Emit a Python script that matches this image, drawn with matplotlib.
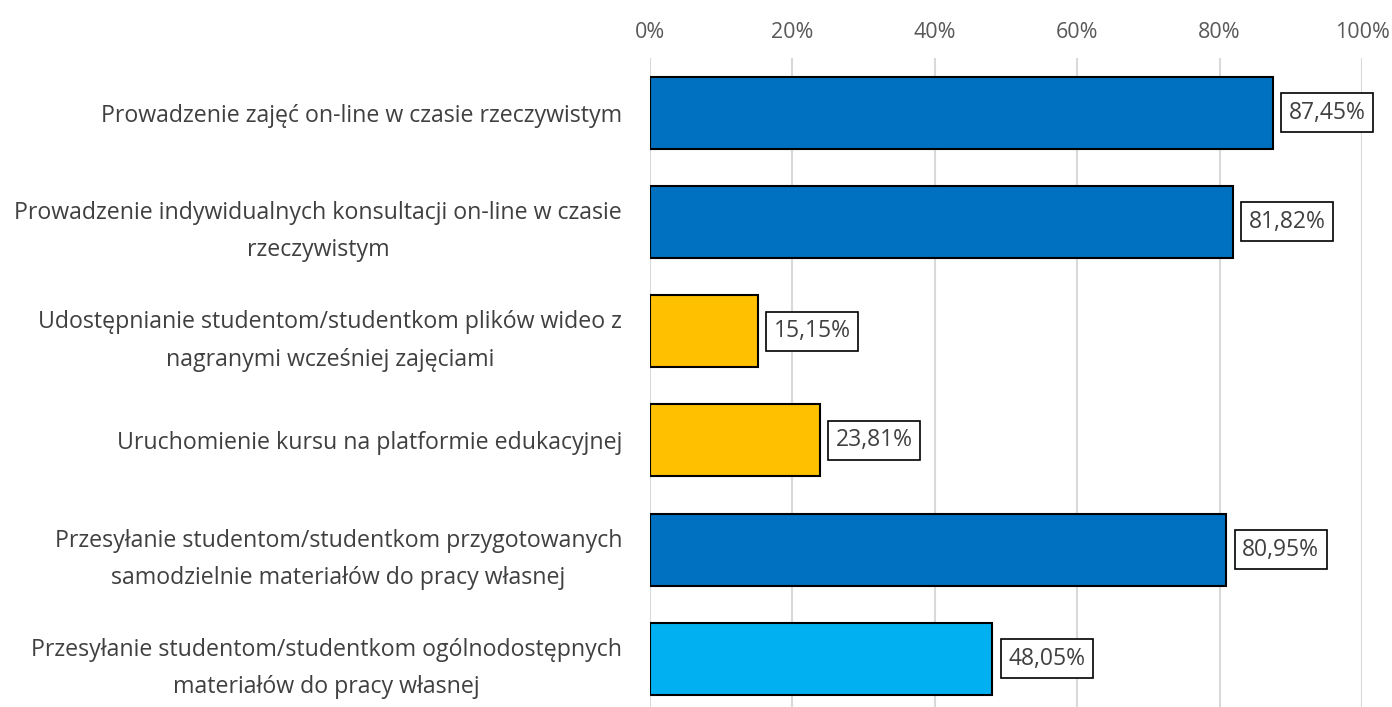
import matplotlib
matplotlib.use("Agg")
import matplotlib.pyplot as plt
from matplotlib.ticker import FuncFormatter

categories = [
    "Prowadzenie zajęć on-line w czasie rzeczywistym",
    "Prowadzenie indywidualnych konsultacji on-line w czasie\nrzeczywistym",
    "Udostępnianie studentom/studentkom plików wideo z\nnagranymi wcześniej zajęciami",
    "Uruchomienie kursu na platformie edukacyjnej",
    "Przesyłanie studentom/studentkom przygotowanych\nsamodzielnie materiałów do pracy własnej",
    "Przesyłanie studentom/studentkom ogólnodostępnych\nmateriałów do pracy własnej",
]
values = [87.45, 81.82, 15.15, 23.81, 80.95, 48.05]
colors = ["#0070C0", "#0070C0", "#FFC000", "#FFC000", "#0070C0", "#00B0F0"]
ticks = [0, 20, 40, 60, 80, 100]

plt.rcParams['font.family'] = ['Open Sans', 'DejaVu Sans']

fig = plt.figure(figsize=(13.92, 7.07), dpi=100)
ax = fig.add_axes([650/1392, 0.0, 712/1392, 1 - 58/707])

y = list(range(len(categories)))
ax.barh(y, values, height=0.66, color=colors, edgecolor="black", linewidth=1.5, zorder=3)
ax.set_xlim(0, 100)
ax.set_ylim(5.44, -0.5)
ax.set_yticks(y)
ax.set_yticklabels(categories, fontsize=16.7, color="#404040", ha="right",
                   multialignment="center", linespacing=1.75)
ax.tick_params(axis='y', length=0, pad=20)
ax.xaxis.tick_top()
ax.set_xticks(ticks)
ax.xaxis.set_major_formatter(FuncFormatter(lambda v, p: f"{int(v)}%"))
ax.tick_params(axis='x', length=0, labelsize=15.5, labelcolor="#595959", pad=11)
ax.grid(axis='x', color="#D9D9D9", linewidth=1.5, zorder=0)
for s in ax.spines.values():
    s.set_visible(False)

for yi, v in zip(y, values):
    ax.annotate(f"{v:.2f}%".replace(".", ","), xy=(v, yi), xytext=(11.5, 0),
                textcoords="offset points", va="center", ha="left",
                fontsize=16.5, color="#404040",
                bbox=dict(boxstyle="square,pad=0.33", fc="white", ec="black", lw=1.2),
                zorder=5)

fig.savefig("out.png", dpi=100)
